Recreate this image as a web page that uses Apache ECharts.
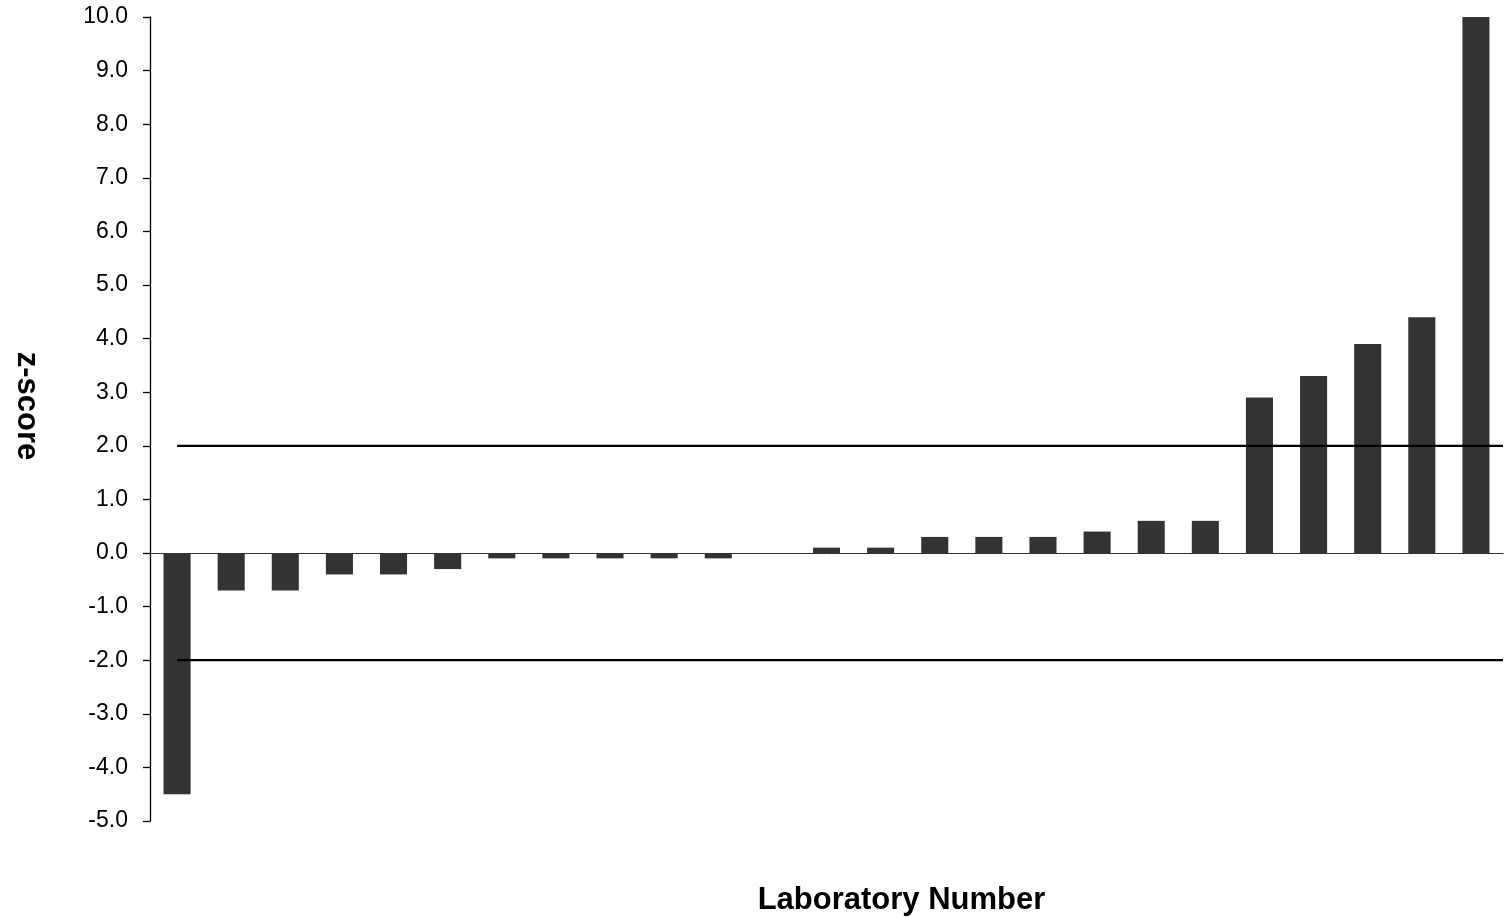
<!DOCTYPE html>
<html>
<head>
<meta charset="utf-8">
<script src="https://cdn.jsdelivr.net/npm/echarts@6/dist/echarts.min.js"></script>
<style>html,body{margin:0;padding:0;background:#fff;}#c{width:1504px;height:917px;}</style>
</head>
<body>
<div id="c"></div>
<script>
// Laboratories (categories are unlabeled in the reference)
const labs = ['1','2','3','4','5','6','7','8','9','10','11','12','13','14','15','16','17','18','19','20','21','22','23','24','25'];
const zScores = [-4.5,-0.7,-0.7,-0.4,-0.4,-0.3,-0.1,-0.1,-0.1,-0.1,-0.1,0.0,0.1,0.1,0.3,0.3,0.3,0.4,0.6,0.6,2.9,3.3,3.9,4.4,10.0];
const upperLimit = [[1, 2], [25.5, 2]];
const lowerLimit = [[1, -2], [25.5, -2]];
const yTicks = {min: -5, max: 10, interval: 1};

const chart = echarts.init(document.getElementById('c'), null, {renderer: 'canvas'});
chart.setOption({
  animation: false,
  backgroundColor: '#ffffff',
  grid: {left: 150, right: 1, top: 17, bottom: 96, containLabel: false, outerBoundsMode: 'none'},
  xAxis: [{
    type: 'category',
    data: labs,
    axisLine: {onZero: true, lineStyle: {color: '#333333', width: 1}},
    axisTick: {show: false},
    axisLabel: {show: false},
    splitLine: {show: false}
  }, {
    type: 'value',
    min: 0.5, max: 25.5,
    position: 'bottom',
    name: 'Laboratory Number',
    nameLocation: 'middle',
    nameGap: 64,
    nameTextStyle: {fontFamily: 'Liberation Sans, Arial, sans-serif', fontWeight: 'bold', fontSize: 31, color: '#000', padding: [0, 0, 0, 150]},
    axisLine: {show: false},
    axisTick: {show: false},
    axisLabel: {show: false},
    splitLine: {show: false}
  }],
  yAxis: {
    type: 'value',
    min: yTicks.min, max: yTicks.max, interval: yTicks.interval,
    name: 'z-score',
    nameLocation: 'middle',
    nameRotate: -90,
    nameGap: 108,
    nameTextStyle: {fontFamily: 'Liberation Sans, Arial, sans-serif', fontWeight: 'bold', fontSize: 31, color: '#000', padding: [0, 26, 0, 0]},
    axisLine: {show: true, onZero: false, lineStyle: {color: '#000', width: 1.3}},
    axisTick: {show: true, length: 7, lineStyle: {color: '#000', width: 1.3}},
    axisLabel: {margin: 22, fontFamily: 'Liberation Sans, Arial, sans-serif', fontSize: 23, color: '#000', formatter: v => v.toFixed(1), padding: [3, 0, 0, 0]},
    splitLine: {show: false}
  },
  series: [{
    type: 'bar',
    data: zScores,
    barWidth: '50%',
    itemStyle: {color: '#333333'},
    z: 2
  }, {
    type: 'line',
    xAxisIndex: 1,
    data: upperLimit,
    symbol: 'none',
    lineStyle: {color: '#000', width: 2.2},
    z: 3
  }, {
    type: 'line',
    xAxisIndex: 1,
    data: lowerLimit,
    symbol: 'none',
    lineStyle: {color: '#000', width: 2.2},
    z: 3
  }]
});
</script>
</body>
</html>
